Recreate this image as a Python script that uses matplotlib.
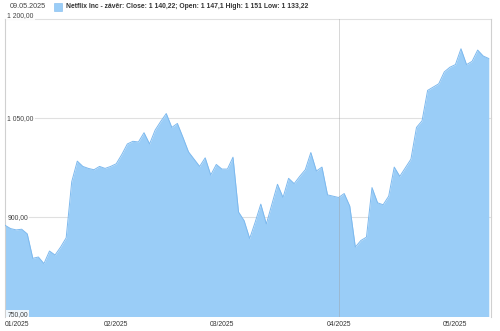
import matplotlib
matplotlib.use("Agg")
import matplotlib.pyplot as plt
import matplotlib.transforms as mtransforms
import numpy as np

plt.rcParams["font.family"] = ["Liberation Sans", "DejaVu Sans"]

# daily closes, one list per month (trading days)
jan = [888, 883, 881, 882, 875, 838, 840, 830, 849, 843, 855, 869, 954, 985,
       977, 974, 972, 977, 974, 977]
feb = [981, 995, 1011, 1015, 1014, 1028, 1011, 1032, 1045, 1057, 1036, 1042,
       1021, 999, 988, 977, 990, 964, 980]
mar = [973, 973, 991, 908, 895, 868, 893, 920, 890, 920, 950, 930, 959, 951,
       962, 972, 998, 970, 976, 934, 932]
apr = [930, 936, 917, 855, 865, 870, 945, 922, 919, 932, 976, 962, 975, 988,
       1036, 1046, 1092, 1097, 1102, 1120, 1127]
may = [1131, 1155, 1131, 1136, 1153, 1144, 1140.22]

months = [jan, feb, mar, apr, may]
month_labels = ["01/2025", "02/2025", "03/2025", "04/2025", "05/2025"]
y_ticks = [750, 900, 1050, 1200]
y_labels = ["750,00", "900,00", "1 050,00", "1 200,00"]

last_date = "09.05.2025"
series_name = "Netflix Inc - závěr"
close_v, open_v, high_v, low_v = "1 140,22", "1 147,1", "1 151", "1 133,22"

values = np.concatenate(months)
x = np.arange(len(values))
month_starts = np.cumsum([0] + [len(m) for m in months[:-1]])
cursor_month = 3

fill_col = "#9acdf7"
edge_col = "#7db9ee"
grid_col = "#e0e0e0"
fs = 4.9

fig = plt.figure(figsize=(5.0, 3.31), dpi=100)
ax = fig.add_axes([5 / 500, 14.5 / 331, 486 / 500, 297.5 / 331])

ax.fill_between(x, y_ticks[0], values, color=fill_col, lw=0, zorder=2)
ax.plot(x, values, color=edge_col, lw=0.7, zorder=3)

ax.set_xlim(0, len(values) - 0.6)
ax.set_ylim(y_ticks[0], y_ticks[-1])

for t in y_ticks[1:]:
    ax.axhline(t, color=grid_col, lw=0.8, zorder=1, clip_on=False)
ax.axvline(month_starts[cursor_month], color="#9a9a9a", lw=0.6, alpha=0.45, zorder=4)

trans = mtransforms.blended_transform_factory(ax.transAxes, ax.transData)
for t, lab in zip(y_ticks, y_labels):
    if t == y_ticks[-1]:
        va = "bottom"
    elif t == y_ticks[0]:
        va = "baseline"
    else:
        va = "center"
    ax.text(0.005, t, lab, transform=trans, ha="left", va=va, fontsize=fs,
            color="#444444", zorder=5,
            bbox=dict(boxstyle="square,pad=0.15", fc="white", ec="none", alpha=0.85))

ax.set_yticks([])
ax.set_xticks(month_starts)
ax.set_xticklabels(month_labels, fontsize=fs, color="#333333")
ax.get_xticklabels()[0].set_ha("left")
ax.tick_params(axis="x", length=0, pad=3.2)

for s in ["top", "bottom"]:
    ax.spines[s].set_visible(False)
for s in ["left", "right"]:
    ax.spines[s].set_color("#d0d0d0")
    ax.spines[s].set_linewidth(0.8)

fig.text(10 / 500, 1 - 7 / 331, last_date, fontsize=fs + 0.3, color="#444444",
         ha="left", va="center")
fig.patches.append(plt.Rectangle((54 / 500, 1 - 11 / 331), 8 / 500, 8 / 331,
                                 transform=fig.transFigure, fc=fill_col,
                                 ec=edge_col, lw=0.4))
fig.text(66 / 500, 1 - 7 / 331,
         f"{series_name}: Close: {close_v}; Open: {open_v} High: {high_v} Low: {low_v}",
         fontsize=fs, color="#333333", fontweight="bold", ha="left", va="center")

fig.savefig("out.png", dpi=100)
